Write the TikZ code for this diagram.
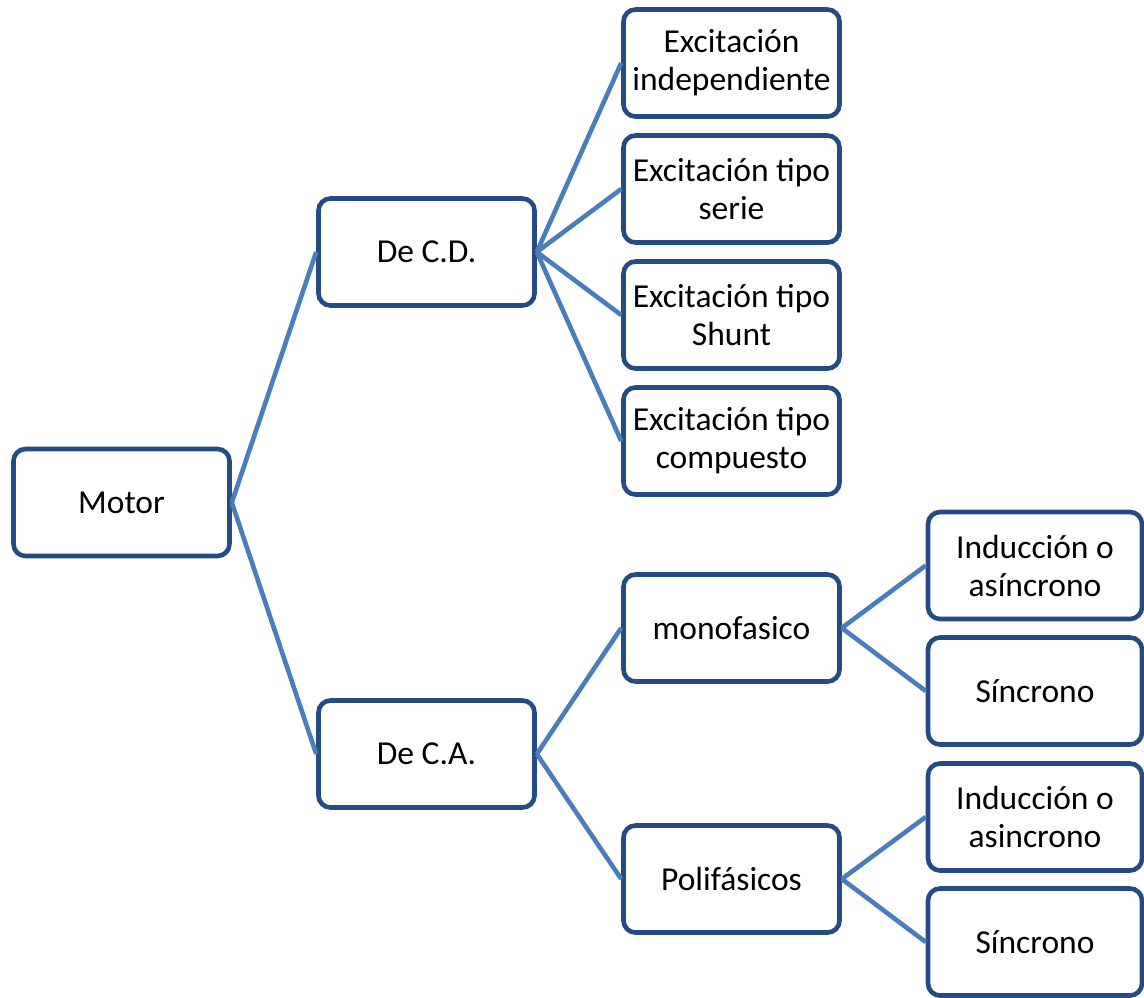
\documentclass[tikz,border=0pt]{standalone}
\usepackage{fontspec}
\setmainfont{Carlito}
\definecolor{boxborder}{RGB}{36,76,130}
\definecolor{linkblue}{RGB}{74,126,187}
\tikzset{
  box/.style={draw=boxborder, line width=4.6pt, rounded corners=12pt, fill=white,
    minimum width=216pt, minimum height=107pt, inner sep=0pt, align=center,
    font=\fontsize{33.5}{38}\selectfont},
  narrowbox/.style={box, minimum width=214pt},
  link/.style={draw=linkblue, line width=4.6pt}
}
\begin{document}
\begin{tikzpicture}[x=1pt,y=1pt]
\useasboundingbox (0,0) rectangle (1144,-997);
\node[box] (motor) at (121.5,-502.5) {Motor};
\node[box] (cd) at (426.5,-252) {De C.D.};
\node[box] (ca) at (426.5,-754) {De C.A.};
\node[box] (e1) at (731.5,-63) {Excitación\\independiente};
\node[box] (e2) at (731.5,-189) {Excitación tipo\\serie};
\node[box] (e3) at (731.5,-315) {Excitación tipo\\Shunt};
\node[box] (e4) at (731.5,-441) {Excitación tipo\\compuesto};
\node[box] (mono) at (731.5,-628) {monofasico};
\node[box] (poli) at (731.5,-879) {Polifásicos};
\node[narrowbox] (m1) at (1035,-565.5) {Inducción o\\asíncrono};
\node[narrowbox] (m2) at (1035,-691) {Síncrono};
\node[narrowbox] (p1) at (1035,-817) {Inducción o\\asincrono};
\node[narrowbox] (p2) at (1035,-942) {Síncrono};
\draw[link] (motor.east) -- (cd.west);
\draw[link] (motor.east) -- (ca.west);
\draw[link] (cd.east) -- (e1.west);
\draw[link] (cd.east) -- (e2.west);
\draw[link] (cd.east) -- (e3.west);
\draw[link] (cd.east) -- (e4.west);
\draw[link] (ca.east) -- (mono.west);
\draw[link] (ca.east) -- (poli.west);
\draw[link] (mono.east) -- (m1.west);
\draw[link] (mono.east) -- (m2.west);
\draw[link] (poli.east) -- (p1.west);
\draw[link] (poli.east) -- (p2.west);
\end{tikzpicture}
\end{document}
